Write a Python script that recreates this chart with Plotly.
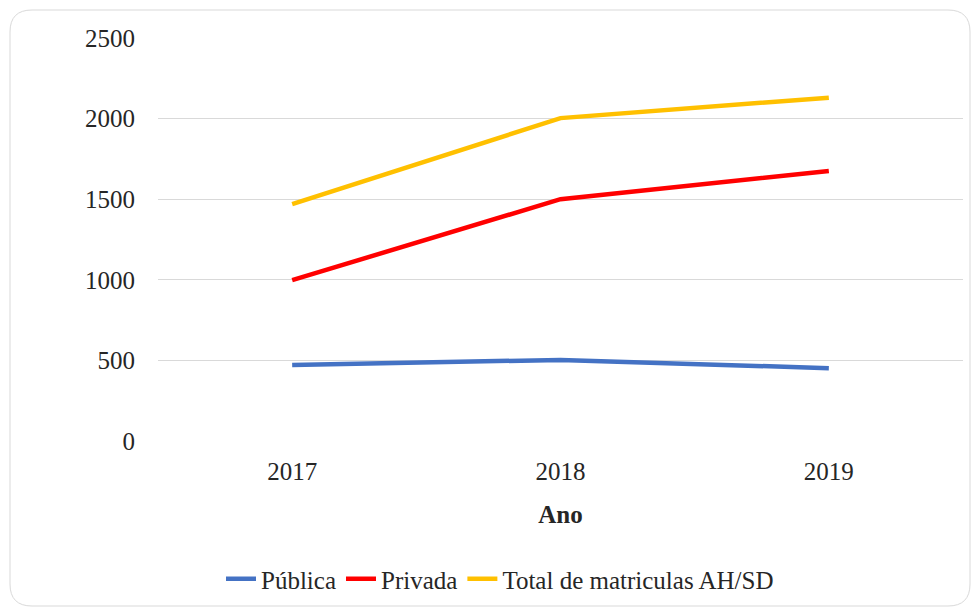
import plotly.graph_objects as go

years = ["2017", "2018", "2019"]
publica = [472, 503, 452]
privada = [998, 1500, 1675]
total = [1470, 2003, 2130]
series_names = ["Pública", "Privada", "Total de matriculas AH/SD"]
colors = ["#4472C4", "#FF0000", "#FFC000"]

W, H = 979, 615
ml, mr, mt, mb = 158, 16, 38, 174
pw, ph = W - ml - mr, H - mt - mb

fig = go.Figure()
for name, vals, c in zip(series_names, [publica, privada, total], colors):
    fig.add_trace(go.Scatter(x=years, y=vals, name=name, mode="lines",
                             line=dict(color=c, width=4.5)))

FS = 25
font = dict(family="Liberation Serif", size=FS, color="#262626")

def px2x(p):
    return (p - ml) / pw

def px2y(p):
    return (H - mb - p) / ph

x0, x1, y0, y1, r = 10, 970, 10, 606, 22
path = (f"M {px2x(x0+r)},{px2y(y0)} L {px2x(x1-r)},{px2y(y0)} "
        f"Q {px2x(x1)},{px2y(y0)} {px2x(x1)},{px2y(y0+r)} "
        f"L {px2x(x1)},{px2y(y1-r)} Q {px2x(x1)},{px2y(y1)} {px2x(x1-r)},{px2y(y1)} "
        f"L {px2x(x0+r)},{px2y(y1)} Q {px2x(x0)},{px2y(y1)} {px2x(x0)},{px2y(y1-r)} "
        f"L {px2x(x0)},{px2y(y0+r)} Q {px2x(x0)},{px2y(y0)} {px2x(x0+r)},{px2y(y0)} Z")

fig.update_layout(
    width=W, height=H,
    margin=dict(l=ml, r=mr, t=mt, b=mb, autoexpand=False),
    paper_bgcolor="white", plot_bgcolor="white",
    font=font,
    showlegend=True,
    legend=dict(orientation="h", xref="container", yref="container",
                x=500 / W, xanchor="center", y=(H - 579) / H, yanchor="middle",
                font=font, itemwidth=30, tracegroupgap=0),
    shapes=[dict(type="path", path=path, xref="paper", yref="paper",
                 line=dict(color="#D9D9D9", width=1), fillcolor="rgba(0,0,0,0)",
                 layer="below")],
)
fig.update_xaxes(type="category", range=[-0.5, 2.5], showgrid=False, showline=False,
                 zeroline=False, ticks="", ticklabelstandoff=13,
                 title=dict(text="<b>Ano</b>", standoff=21, font=font))
fig.update_yaxes(range=[0, 2500], dtick=500, showgrid=True, gridcolor="#D9D9D9",
                 gridwidth=1.3, zeroline=False, showline=False, ticks="",
                 ticklabelstandoff=22)

fig.write_html("out.html")
